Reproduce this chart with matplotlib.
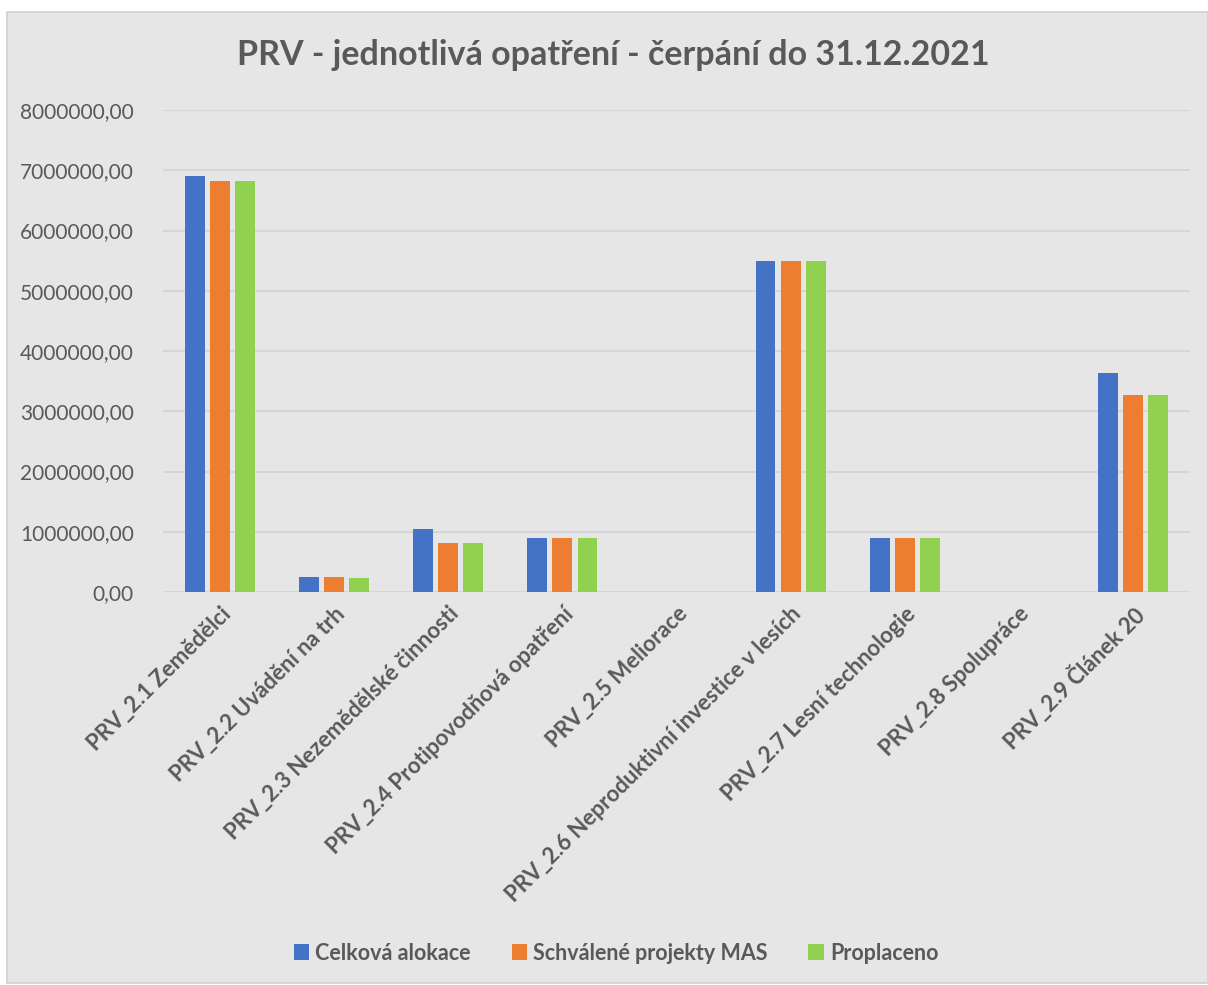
import numpy as np
import matplotlib.pyplot as plt
from matplotlib.patches import Rectangle
from matplotlib.ticker import FuncFormatter

categories = ['PRV_2.1 Zemědělci', 'PRV_2.2 Uvádění na trh', 'PRV_2.3 Nezemědělské činnosti',
              'PRV_2.4 Protipovodňová opatření', 'PRV_2.5 Meliorace',
              'PRV_2.6 Neproduktivní investice v lesích', 'PRV_2.7 Lesní technologie',
              'PRV_2.8 Spolupráce', 'PRV_2.9 Článek 20']
celkova = [6900000, 250000, 1050000, 900000, 0, 5490000, 890000, 0, 3630000]
schvalene = [6820000, 245000, 810000, 900000, 0, 5490000, 890000, 0, 3270000]
proplaceno = [6820000, 240000, 810000, 900000, 0, 5490000, 890000, 0, 3270000]
series_names = ['Celková alokace', 'Schválené projekty MAS', 'Proplaceno']

plt.rcParams['font.family'] = ['Lato', 'DejaVu Sans']
txt = '#595959'
bg = '#E6E6E6'

fig = plt.figure(figsize=(12.08, 9.85), dpi=100, facecolor='white')
fig.patches.append(Rectangle((7 / 1208, 1 - 983 / 985), 1201 / 1208, 971 / 985,
                             transform=fig.transFigure, facecolor=bg,
                             edgecolor='#D0D0D0', lw=1.2, zorder=-1))
ax = fig.add_axes([163 / 1208, 1 - 592 / 985, 1027 / 1208, 482 / 985])
ax.set_facecolor(bg)

x = np.arange(len(categories))
w = 0.175
step = 0.22
ax.bar(x - step, celkova, w, color='#4472C4', label=series_names[0], zorder=3)
ax.bar(x, schvalene, w, color='#ED7D31', label=series_names[1], zorder=3)
ax.bar(x + step, proplaceno, w, color='#92D050', label=series_names[2], zorder=3)

ax.set_xlim(-0.5, len(categories) - 0.5)
ax.set_ylim(0, 8000000)
ax.set_yticks(np.arange(0, 8000001, 1000000))
ax.yaxis.set_major_formatter(FuncFormatter(lambda v, p: f'{v:.2f}'.replace('.', ',')))
ax.grid(axis='y', color='#D6D6D6', lw=1.5, zorder=0)
for s in ax.spines.values():
    s.set_visible(False)
ax.tick_params(axis='both', length=0, colors=txt, labelsize=15)
ax.tick_params(axis='y', pad=21)
ax.set_xticks(x)
ax.set_xticklabels(categories, rotation=45, ha='right', rotation_mode='anchor',
                   fontweight='bold', fontsize=16, color=txt)
ax.tick_params(axis='x', pad=8)

fig.text(0.508, 1 - 55 / 985, 'PRV - jednotlivá opatření - čerpání do 31.12.2021',
         ha='center', va='center', fontsize=24.5, fontweight='bold', color=txt)

leg = fig.legend(loc='center', bbox_to_anchor=(0.51, 1 - 953 / 985), ncol=3,
                 frameon=False, fontsize=15.5, handlelength=0.7, handleheight=0.7,
                 handletextpad=0.3, columnspacing=1.9)
for t in leg.get_texts():
    t.set_color(txt)
    t.set_fontweight('bold')

fig.savefig('out.png', dpi=100, facecolor='white')
